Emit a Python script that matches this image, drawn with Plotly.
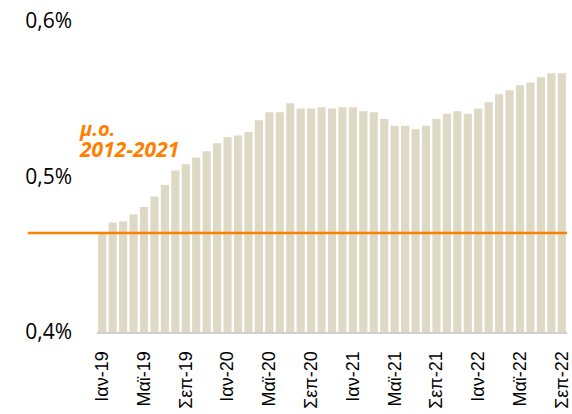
import plotly.graph_objects as go

months = ['Ιαν', 'Φεβ', 'Μαρ', 'Απρ', 'Μαϊ', 'Ιουν', 'Ιουλ', 'Αυγ', 'Σεπ', 'Οκτ', 'Νοε', 'Δεκ']
categories = [f'{m}-{y}' for y in ('19', '20', '21', '22') for m in months][:45]

values = [
    0.4645, 0.4704, 0.4712, 0.4755, 0.4804, 0.4871, 0.4945, 0.5038, 0.5078,
    0.5122, 0.5162, 0.5214, 0.5252, 0.5263, 0.5286, 0.5361, 0.5413, 0.5413,
    0.5471, 0.5437, 0.5437, 0.5445, 0.5437, 0.5445, 0.5445, 0.5419, 0.5413,
    0.5370, 0.5327, 0.5327, 0.5304, 0.5327, 0.5370, 0.5404, 0.5419, 0.5404,
    0.5437, 0.5477, 0.5529, 0.5555, 0.5587, 0.5604, 0.5638, 0.5664, 0.5664,
]
avg_2012_2021 = 0.4637

tick_vals = categories[::4]
y_ticks = [0.4, 0.5, 0.6]
y_labels = ['0,4%', '0,5%', '0,6%']

bar_color = '#DDD9C4'
orange = '#FF7F00'

fig = go.Figure()
fig.add_trace(go.Bar(
    x=categories, y=values,
    marker_color=bar_color, marker_line_width=0,
    showlegend=False,
))

# μέσος όρος 2012-2021
fig.add_shape(
    type='line', xref='paper', yref='y',
    x0=-0.147, x1=1, y0=avg_2012_2021, y1=avg_2012_2021,
    line=dict(color=orange, width=2.5),
)
fig.add_annotation(
    text='<b><i>μ.ο.</i></b>', xref='paper', yref='paper',
    x=-0.042, y=0.655, xanchor='left', yanchor='middle', showarrow=False,
    font=dict(family='Open Sans', size=20, color=orange),
)
fig.add_annotation(
    text='<b><i>2012-2021</i></b>', xref='paper', yref='paper',
    x=-0.042, y=0.59, xanchor='left', yanchor='middle', showarrow=False,
    font=dict(family='Open Sans', size=21, color=orange),
)

fig.update_layout(
    width=572, height=414,
    margin=dict(l=97, r=0, t=21, b=82),
    plot_bgcolor='white', paper_bgcolor='white',
    bargap=0.22,
)
fig.update_xaxes(
    type='category', tickmode='array', tickvals=tick_vals, ticktext=tick_vals,
    tickangle=-90, tickfont=dict(family='Liberation Sans', size=18, color='black'),
    showline=True, linecolor='#D0D0D0', linewidth=2, showgrid=False,
    ticks='', ticklabelstandoff=10,
)
fig.update_yaxes(
    range=[0.4, 0.6], tickvals=y_ticks, ticktext=y_labels,
    tickfont=dict(family='Open Sans', size=21, color='black'),
    showgrid=False, zeroline=False, showline=False, ticks='',
    ticklabelstandoff=24,
)

fig.write_html(
    'out.html',
    config={'displayModeBar': False},
    post_script="document.body.style.margin='0px';document.body.style.overflow='hidden';",
)
